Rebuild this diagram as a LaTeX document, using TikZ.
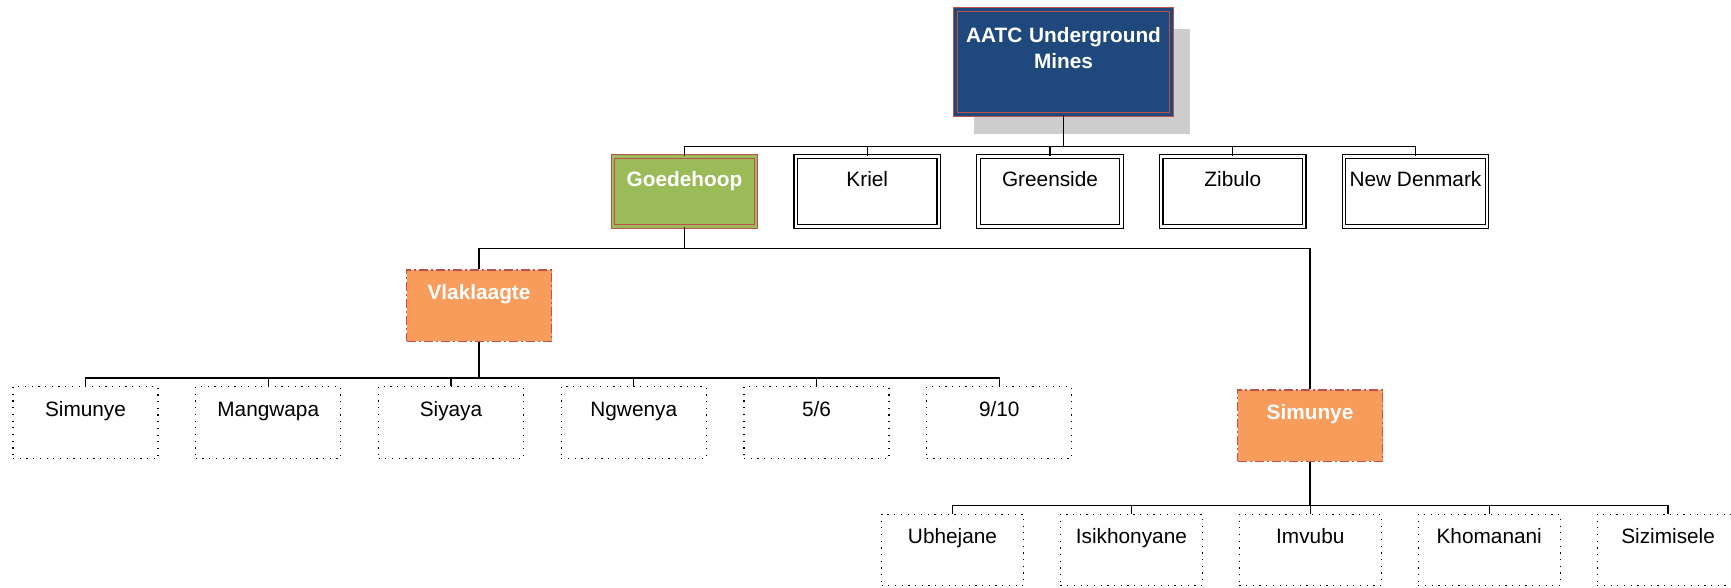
\documentclass[tikz,border=0pt]{standalone}
\usepackage{fontspec}
\setmainfont{Liberation Sans}
\usetikzlibrary{shadows}

\definecolor{headblue}{HTML}{1F497D}
\definecolor{linered}{HTML}{C0504D}
\definecolor{minegreen}{HTML}{9BBB59}
\definecolor{shaftorange}{HTML}{F79C5A}
\definecolor{shadowgray}{HTML}{CDCDCD}

\tikzset{
  basebox/.style={rectangle, inner sep=0pt, text height=29.5pt, text depth=42pt,
    minimum width=145pt, font=\fontsize{20.8}{25.6}\selectfont},
  minebox/.style={basebox, text depth=40.5pt, minimum width=143pt, draw,
    line width=1.1pt, double=white, double distance=2.4pt},
  shaftbox/.style={basebox, fill=shaftorange, draw=linered, line width=1.5pt,
    dash pattern=on 9pt off 3pt on 2pt off 3pt, text=white,
    font=\fontsize{20.8}{25.6}\selectfont\bfseries},
  sectionbox/.style={basebox, draw, line width=1.2pt, dash pattern=on 1.2pt off 5.5pt},
  link/.style={line width=1.3pt}
}

\begin{document}
\begin{tikzpicture}[node distance=182.75pt]

\useasboundingbox (0,0) rectangle (1731pt,-587pt);

% head office
\node (aatc) [basebox, text width=216pt, align=center, text height=33.2pt, text depth=71.8pt,
  fill=headblue, draw=linered, line width=1.1pt, double=headblue, double distance=2.4pt,
  text=white, font=\fontsize{20.8}{25.6}\selectfont\bfseries,
  drop shadow={shadow xshift=18pt, shadow yshift=-19pt, fill=shadowgray, opacity=1}]
  at (1063.5pt,-62pt) {AATC Underground\\Mines};

% mines
\node (goed) [minebox, fill=minegreen, draw=linered, double=minegreen, text=white,
  font=\fontsize{20.8}{25.6}\selectfont\bfseries] at (684.5pt,-191.5pt) {Goedehoop};
\node (kriel) [minebox, right of=goed] {Kriel};
\node (green) [minebox, right of=kriel] {Greenside};
\node (zibulo) [minebox, right of=green] {Zibulo};
\node (newden) [minebox, right of=zibulo] {New Denmark};

% shafts
\node (vlak) [shaftbox] at (479pt,-305.5pt) {Vlaklaagte};
\node (simunye) [shaftbox] at (1310pt,-425.5pt) {Simunye};

% sections under Vlaklaagte
\node (vsim) [sectionbox] at (85.5pt,-422.5pt) {Simunye};
\node (vman) [sectionbox, right of=vsim] {Mangwapa};
\node (vsiy) [sectionbox, right of=vman] {Siyaya};
\node (vngw) [sectionbox, right of=vsiy] {Ngwenya};
\node (vfive) [sectionbox, right of=vngw] {5/6};
\node (vnine) [sectionbox, right of=vfive] {9/10};

% sections under Simunye
\begin{scope}[node distance=178.9pt, basebox/.append style={minimum width=142pt}]
\node (subh) [sectionbox] at (952.5pt,-550pt) {Ubhejane};
\node (sisi) [sectionbox, right of=subh] {Isikhonyane};
\node (simv) [sectionbox, right of=sisi] {Imvubu};
\node (skho) [sectionbox, right of=simv] {Khomanani};
\node (sziz) [sectionbox, right of=skho] {Sizimisele};
\end{scope}

\foreach \m in {goed,kriel,green,zibulo,newden}
  \draw[link] (aatc.south) -- ++(0,-31.2pt) -| (\m.north);

\foreach \s in {vlak,simunye}
  \draw[link] (goed.south) -- ++(0,-21.5pt) -| (\s.north);

\foreach \s in {vsim,vman,vsiy,vngw,vfive,vnine}
  \draw[link] (vlak.south) -- ++(0,-36pt) -| (\s.north);

\foreach \s in {subh,sisi,simv,skho,sziz}
  \draw[link] (simunye.south) -- ++(0,-43.75pt) -| (\s.north);

\end{tikzpicture}
\end{document}
